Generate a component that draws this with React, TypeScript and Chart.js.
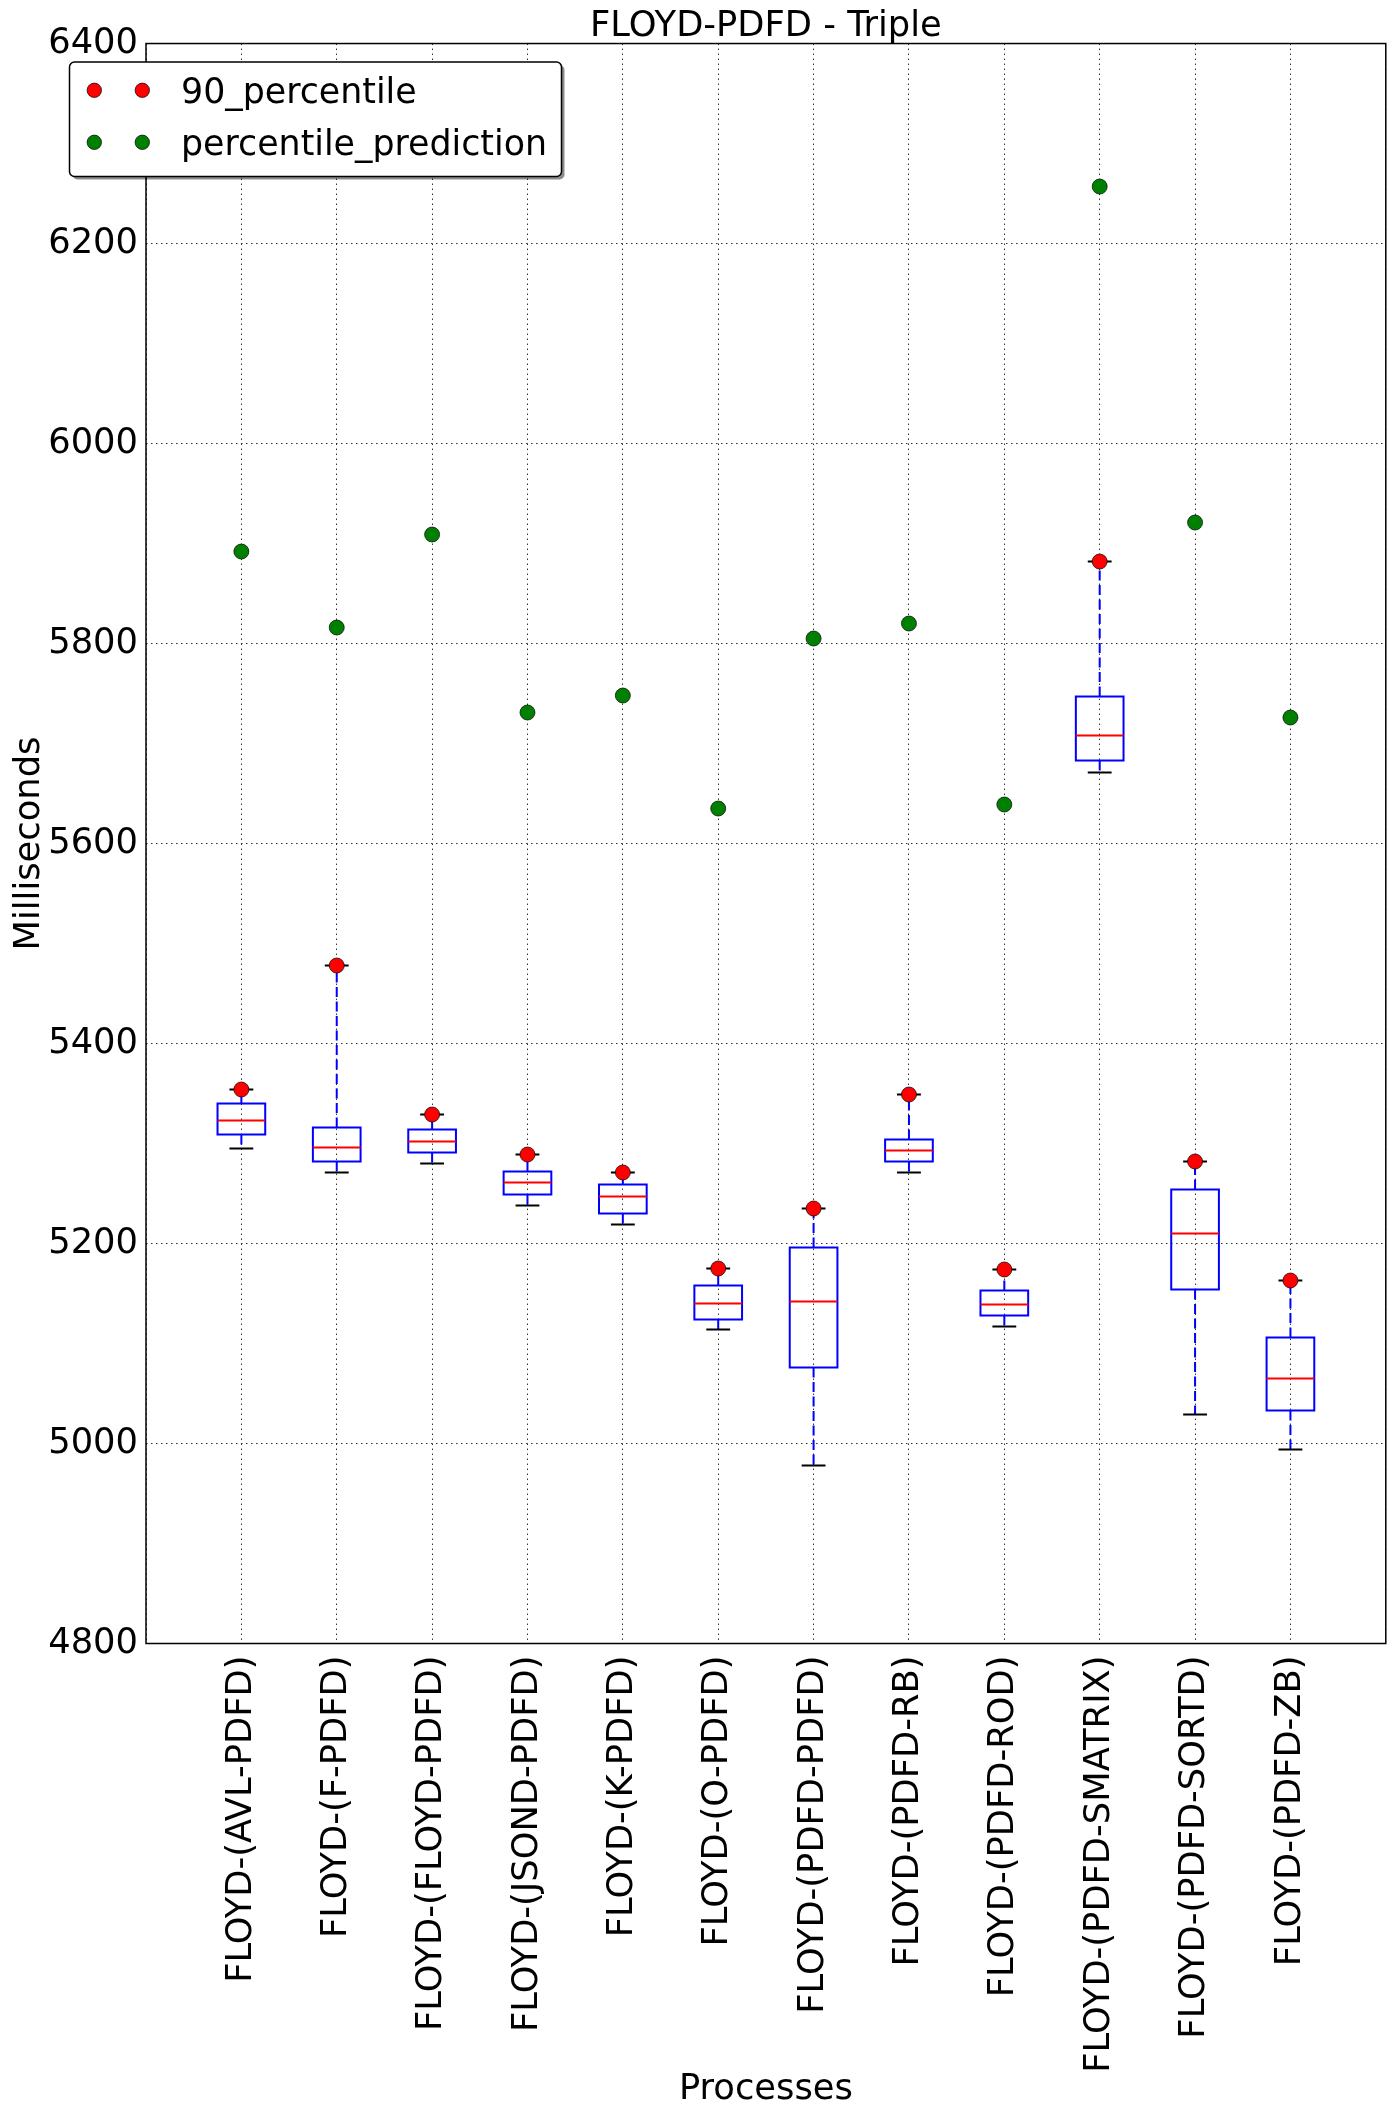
import React, { useEffect, useRef } from 'react';
import { Chart, registerables } from 'chart.js';

Chart.register(...registerables);

const categories = [
  'FLOYD-(AVL-PDFD)',
  'FLOYD-(F-PDFD)',
  'FLOYD-(FLOYD-PDFD)',
  'FLOYD-(JSOND-PDFD)',
  'FLOYD-(K-PDFD)',
  'FLOYD-(O-PDFD)',
  'FLOYD-(PDFD-PDFD)',
  'FLOYD-(PDFD-RB)',
  'FLOYD-(PDFD-ROD)',
  'FLOYD-(PDFD-SMATRIX)',
  'FLOYD-(PDFD-SORTD)',
  'FLOYD-(PDFD-ZB)',
];

const whiskerHigh = [5354, 5478, 5329, 5289, 5271, 5175, 5235, 5349, 5174, 5882, 5282, 5163];
const q3 = [5340, 5316, 5314, 5272, 5259, 5158, 5196, 5304, 5153, 5747, 5254, 5106];
const median = [5323, 5296, 5302, 5261, 5247, 5140, 5142, 5293, 5139, 5708, 5210, 5065];
const q1 = [5309, 5282, 5291, 5249, 5230, 5124, 5076, 5282, 5128, 5683, 5154, 5033];
const whiskerLow = [5295, 5271, 5280, 5238, 5219, 5114, 4978, 5271, 5117, 5671, 5029, 4994];

const percentile90 = [5354, 5478, 5329, 5289, 5271, 5175, 5235, 5349, 5174, 5882, 5282, 5163];
const percentilePrediction = [5892, 5816, 5909, 5731, 5748, 5635, 5805, 5820, 5639, 6257, 5921, 5726];

const yTicks = [4800, 5000, 5200, 5400, 5600, 5800, 6000, 6200, 6400];

const FONT = "'DejaVu Sans', sans-serif";
const FS = 35.3;
const LEGEND_FS = 34.8;

const boxPlugin = {
  id: 'boxes',
  beforeDatasetsDraw(chart: any) {
    const { ctx, scales } = chart;
    const x = scales.x;
    const y = scales.y;
    ctx.save();
    categories.forEach((_, i) => {
      const pos = i + 1;
      const cx = x.getPixelForValue(pos);
      const hw = x.getPixelForValue(pos + 0.25) - cx;
      const cw = x.getPixelForValue(pos + 0.125) - cx;
      const yHi = y.getPixelForValue(whiskerHigh[i]);
      const yQ3 = y.getPixelForValue(q3[i]);
      const yMed = y.getPixelForValue(median[i]);
      const yQ1 = y.getPixelForValue(q1[i]);
      const yLo = y.getPixelForValue(whiskerLow[i]);

      ctx.strokeStyle = '#0000ff';
      ctx.lineWidth = 2;
      ctx.setLineDash([10, 4.5]);
      ctx.beginPath();
      ctx.moveTo(cx, yQ3);
      ctx.lineTo(cx, yHi);
      ctx.stroke();
      ctx.beginPath();
      ctx.moveTo(cx, yQ1);
      ctx.lineTo(cx, yLo);
      ctx.stroke();
      ctx.setLineDash([]);

      ctx.strokeStyle = '#000000';
      ctx.lineWidth = 2;
      ctx.beginPath();
      ctx.moveTo(cx - cw, yHi);
      ctx.lineTo(cx + cw, yHi);
      ctx.moveTo(cx - cw, yLo);
      ctx.lineTo(cx + cw, yLo);
      ctx.stroke();

      ctx.strokeStyle = '#0000ff';
      ctx.lineWidth = 2;
      ctx.strokeRect(cx - hw, yQ3, 2 * hw, yQ1 - yQ3);

      ctx.strokeStyle = '#ff0000';
      ctx.lineWidth = 2;
      ctx.beginPath();
      ctx.moveTo(cx - hw, yMed);
      ctx.lineTo(cx + hw, yMed);
      ctx.stroke();
    });
    ctx.restore();
  },
};

function roundRect(ctx: CanvasRenderingContext2D, x: number, y: number, w: number, h: number, r: number) {
  ctx.beginPath();
  ctx.moveTo(x + r, y);
  ctx.lineTo(x + w - r, y);
  ctx.arcTo(x + w, y, x + w, y + r, r);
  ctx.lineTo(x + w, y + h - r);
  ctx.arcTo(x + w, y + h, x + w - r, y + h, r);
  ctx.lineTo(x + r, y + h);
  ctx.arcTo(x, y + h, x, y + h - r, r);
  ctx.lineTo(x, y + r);
  ctx.arcTo(x, y, x + r, y, r);
  ctx.closePath();
}

const frameLegendPlugin = {
  id: 'frameLegend',
  afterDraw(chart: any) {
    const { ctx, chartArea } = chart;
    ctx.save();
    ctx.strokeStyle = '#000';
    ctx.lineWidth = 1.5;
    ctx.strokeRect(chartArea.left, chartArea.top, chartArea.right - chartArea.left, chartArea.bottom - chartArea.top);

    // legend
    const lx = 69.5, ly = 62, lw = 492, lh = 114.5;
    ctx.fillStyle = 'rgba(0,0,0,0.45)';
    roundRect(ctx, lx + 3, ly + 3, lw, lh, 5);
    ctx.fill();
    ctx.fillStyle = '#ffffff';
    roundRect(ctx, lx, ly, lw, lh, 5);
    ctx.fill();
    ctx.strokeStyle = '#000';
    ctx.lineWidth = 1.5;
    ctx.stroke();

    const entries = [
      { label: '90_percentile', color: '#ff0000', y: 90.3, base: 102.8 },
      { label: 'percentile_prediction', color: '#008000', y: 142.3, base: 154.5 },
    ];
    entries.forEach((e) => {
      [94.3, 142.3].forEach((px) => {
        ctx.beginPath();
        ctx.arc(px, e.y, 7.2, 0, Math.PI * 2);
        ctx.fillStyle = e.color;
        ctx.fill();
        ctx.lineWidth = 0.7;
        ctx.strokeStyle = '#000';
        ctx.stroke();
      });
      ctx.fillStyle = '#000';
      ctx.font = `${LEGEND_FS}px ${FONT}`;
      ctx.textAlign = 'left';
      ctx.textBaseline = 'alphabetic';
      ctx.fillText(e.label, 181, e.base);
    });
    ctx.restore();
  },
};

export default function App() {
  const ref = useRef<HTMLCanvasElement>(null);

  useEffect(() => {
    if (!ref.current) return;
    Chart.defaults.font.family = FONT;
    Chart.defaults.color = '#000';
    const gridCommon = {
      color: 'rgba(0,0,0,0.8)',
      lineWidth: 1,
      drawTicks: false,
    };
    const chart = new Chart(ref.current, {
      type: 'scatter',
      data: {
        datasets: [
          {
            label: '90_percentile',
            data: percentile90.map((v, i) => ({ x: i + 1, y: v })),
            backgroundColor: '#ff0000',
            borderColor: '#000000',
            borderWidth: 0.7,
            pointRadius: 7.5,
            pointHoverRadius: 7.5,
          },
          {
            label: 'percentile_prediction',
            data: percentilePrediction.map((v, i) => ({ x: i + 1, y: v })),
            backgroundColor: '#008000',
            borderColor: '#000000',
            borderWidth: 0.7,
            pointRadius: 7.5,
            pointHoverRadius: 7.5,
          },
        ],
      },
      options: {
        animation: false,
        responsive: false,
        devicePixelRatio: 1,
        layout: { padding: { left: 0, right: 8, top: 0, bottom: 0 } },
        plugins: {
          legend: { display: false },
          tooltip: { enabled: false },
          title: {
            display: true,
            text: 'FLOYD-PDFD - Triple',
            fullSize: false,
            color: '#000',
            font: { size: FS, weight: 'normal', family: FONT, lineHeight: 0.95 },
            padding: { top: 10, bottom: 0 },
          },
        },
        scales: {
          x: {
            type: 'linear',
            min: 0,
            max: 13,
            z: 1,
            afterFit: (s: any) => {
              s.height = 2116 - 1643.5;
              s.paddingLeft = 0;
              s.paddingRight = 0;
            },
            afterBuildTicks: (s: any) => {
              s.ticks = Array.from({ length: 14 }, (_, i) => ({ value: i }));
            },
            ticks: {
              autoSkip: false,
              minRotation: 90,
              maxRotation: 90,
              padding: 12,
              color: '#000',
              font: { size: FS, family: FONT },
              callback: (v: any) => {
                const n = Number(v);
                return n >= 1 && n <= categories.length ? categories[n - 1] : '';
              },
            },
            grid: gridCommon,
            border: { display: false, dash: [1.5, 3.5] },
            title: {
              display: true,
              text: 'Processes',
              color: '#000',
              font: { size: FS, family: FONT, lineHeight: 1.2 },
              padding: { top: 0, bottom: 5 },
            },
          },
          y: {
            type: 'linear',
            min: 4800,
            max: 6400,
            z: 1,
            afterFit: (s: any) => {
              s.width = 146;
            },
            afterBuildTicks: (s: any) => {
              s.ticks = yTicks.map((v) => ({ value: v }));
            },
            ticks: {
              padding: 8,
              color: '#000',
              font: { size: FS, family: FONT },
              callback: (v: any) => String(v),
            },
            grid: gridCommon,
            border: { display: false, dash: [1.5, 3.5] },
            title: {
              display: true,
              text: 'Milliseconds',
              color: '#000',
              font: { size: FS, family: FONT, lineHeight: 1.2 },
              padding: { top: 8.5, bottom: 0 },
            },
          },
        },
      },
      plugins: [boxPlugin, frameLegendPlugin],
    } as any);
    return () => chart.destroy();
  }, []);

  return (
    <div style={{ position: 'absolute', left: 0, top: 0, width: 1394, height: 2116, background: '#fff' }}>
      <canvas ref={ref} width={1394} height={2116} style={{ display: 'block', width: 1394, height: 2116 }} />
    </div>
  );
}
